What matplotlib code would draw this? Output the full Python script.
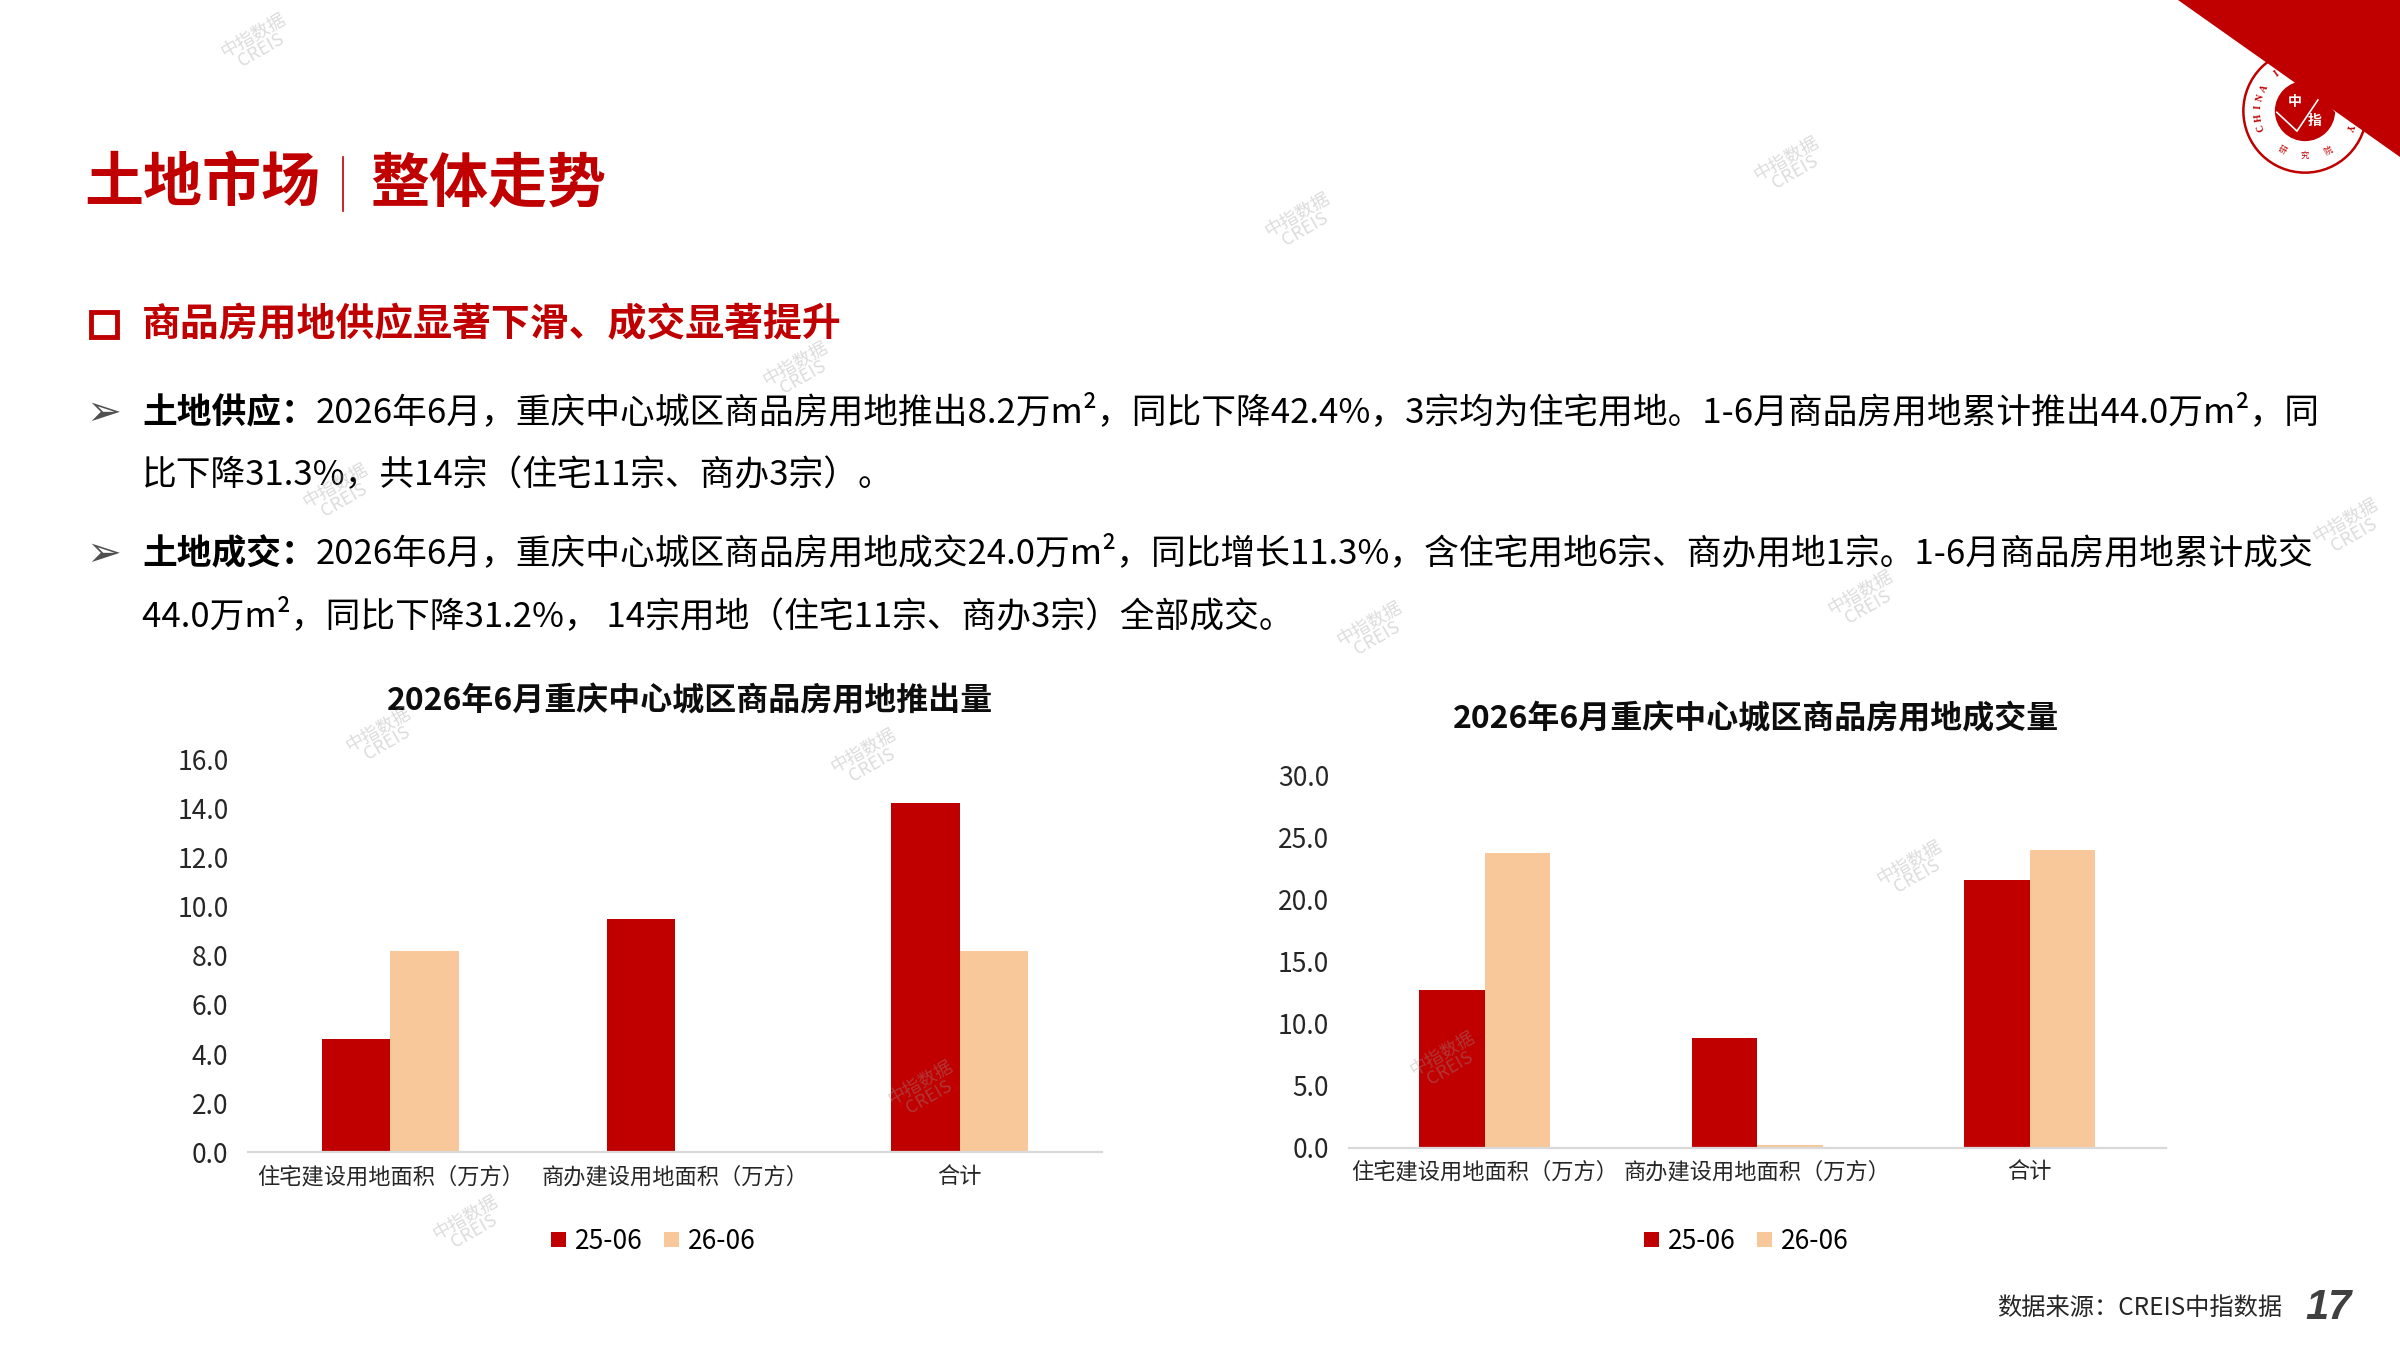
import matplotlib
matplotlib.use('Agg')
import matplotlib.pyplot as plt
from matplotlib.patches import Polygon, Rectangle, Circle
from matplotlib.ticker import FormatStrFormatter, MultipleLocator
import numpy as np

plt.rcParams['font.family'] = ['Noto Sans CJK SC', 'DejaVu Sans']

# ---- data ----
categories = ['住宅建设用地面积（万方）', '商办建设用地面积（万方）', '合计']
series_labels = ['25-06', '26-06']
supply_2506 = [4.6, 9.5, 14.2]
supply_2606 = [8.2, 0.0, 8.2]
deal_2506 = [12.7, 8.9, 21.6]
deal_2606 = [23.8, 0.2, 24.0]

supply_title = '2026年6月重庆中心城区商品房用地推出量'
deal_title = '2026年6月重庆中心城区商品房用地成交量'

RED = '#C00000'
PEACH = '#F9C89A'

fig = plt.figure(figsize=(24, 13.5), dpi=100)
W, H = 2400, 1350


def fx(px):
    return px / W


def fy(py):
    return 1 - py / H


# ---- header ----
fig.add_artist(Polygon([(fx(2178), 1), (1, 1), (1, fy(157))], closed=True,
                       transform=fig.transFigure, facecolor=RED, edgecolor='none'))

fig.text(fx(84), fy(184), '土地市场', fontsize=42.5, fontweight='bold', color=RED, va='center')
fig.text(fx(370), fy(184), '整体走势', fontsize=42.5, fontweight='bold', color=RED, va='center')
fig.add_artist(plt.Line2D([fx(343), fx(343)], [fy(157), fy(211)], transform=fig.transFigure,
                          color=RED, lw=1.2))

fig.add_artist(Rectangle((fx(91), fy(337)), fx(26), 25 / H, transform=fig.transFigure,
                         fill=False, edgecolor=RED, lw=3.5))
fig.text(fx(142), fy(325), '商品房用地供应显著下滑、成交显著提升', fontsize=28,
         fontweight='bold', color=RED, va='center')

renderer = fig.canvas.get_renderer()
BODY = 25


def rich_line(y, bold, rest):
    x = fx(142)
    if bold:
        t = fig.text(x, y, bold, fontsize=BODY, fontweight='bold', va='center')
        x = t.get_window_extent(renderer).x1 / W
    fig.text(x, y, rest, fontsize=BODY, va='center')


for yy in (413, 554):
    fig.text(fx(86), fy(yy), '➢', fontsize=30, color='#505050', va='center',
             family='DejaVu Sans')

rich_line(fy(413), '土地供应：', '2026年6月，重庆中心城区商品房用地推出8.2万m²，同比下降42.4%，'
          '3宗均为住宅用地。1-6月商品房用地累计推出44.0万m²，同')
rich_line(fy(476), '', '比下降31.3%，共14宗（住宅11宗、商办3宗）。')
rich_line(fy(554), '土地成交：', '2026年6月，重庆中心城区商品房用地成交24.0万m²，同比增长11.3%，'
          '含住宅用地6宗、商办用地1宗。1-6月商品房用地累计成交')
rich_line(fy(617), '', '44.0万m²，同比下降31.2%， 14宗用地（住宅11宗、商办3宗）全部成交。')


# ---- charts ----
def bar_chart(rect, v1, v2, ymax, step, title, title_xy, legend_xy):
    ax = fig.add_axes(rect)
    x = np.arange(len(categories))
    w = 0.24
    b1 = ax.bar(x - w / 2, v1, w, color=RED, label=series_labels[0])
    b2 = ax.bar(x + w / 2, v2, w, color=PEACH, label=series_labels[1])
    ax.set_xlim(-0.5, len(categories) - 0.5)
    ax.set_ylim(0, ymax)
    ax.yaxis.set_major_locator(MultipleLocator(step))
    ax.yaxis.set_major_formatter(FormatStrFormatter('%.1f'))
    ax.set_xticks(x)
    ax.set_xticklabels(categories, fontsize=16)
    ax.tick_params(axis='y', length=0, labelsize=19, pad=14, colors='#262626')
    ax.tick_params(axis='x', length=0, pad=9, colors='#262626')
    for s in ('top', 'left', 'right'):
        ax.spines[s].set_visible(False)
    ax.spines['bottom'].set_color('#D9D9D9')
    ax.spines['bottom'].set_linewidth(1.6)
    fig.text(title_xy[0], title_xy[1], title, fontsize=23, fontweight='bold',
             ha='center', va='center', color='#0D0D0D')
    ax.legend(handles=[b1, b2], loc='center', bbox_to_anchor=legend_xy,
              bbox_transform=fig.transFigure, ncol=2, frameon=False, fontsize=19,
              handlelength=0.55, handleheight=0.55, handletextpad=0.35, columnspacing=0.8)
    return ax


bar_chart([0.1033, 0.1463, 0.3559, 0.2914], supply_2506, supply_2606, 16, 2,
          supply_title, (0.2876, 0.4807), (0.2723, 0.0805))
bar_chart([0.5619, 0.1497, 0.3406, 0.2755], deal_2506, deal_2606, 30, 5,
          deal_title, (0.7315, 0.4671), (0.7277, 0.0805))

# ---- footer ----
fig.text(fx(2282), fy(1308), '数据来源：CREIS中指数据', fontsize=17.5, ha='right', va='center',
         color='#262626')
fig.text(fx(2305), fy(1308), '17', fontsize=30, fontweight='bold', style='italic',
         color='#404040', va='center', family='Liberation Sans')

# ---- logo ----
lax = fig.add_axes([fx(2238), fy(178), fx(134), 134 / H])
lax.set_xlim(-1, 1)
lax.set_ylim(-1, 1)
lax.set_aspect('equal')
lax.axis('off')
lax.add_patch(Circle((0, 0), 0.92, facecolor='white', edgecolor=RED, lw=1.8))
lax.add_patch(Circle((0, 0), 0.45, facecolor=RED, edgecolor='none'))
lax.plot([-0.42, -0.12, 0.25, 0.45], [-0.02, -0.3, 0.25, 0.0], color='white', lw=1.2)
lax.text(-0.15, 0.14, '中', color='white', fontsize=10, fontweight='bold', ha='center', va='center')
lax.text(0.15, -0.15, '指', color='white', fontsize=10, fontweight='bold', ha='center', va='center')
ring = 'CHINA INDEX ACADEMY'
angs = np.linspace(200, -20, len(ring))
for ch, a in zip(ring, angs):
    r = 0.7
    lax.text(r * np.cos(np.radians(a)), r * np.sin(np.radians(a)), ch, fontsize=7,
             rotation=a - 90, ha='center', va='center', color=RED, family='Liberation Serif',
             fontweight='bold')
for ch, a in zip('研究院', [240, 270, 300]):
    lax.text(0.68 * np.cos(np.radians(a)), 0.68 * np.sin(np.radians(a)), ch, fontsize=6,
             rotation=a + 90, ha='center', va='center', color=RED)

# ---- watermarks ----
marks = [(168, 28), (850, 145), (1170, 108), (522, 242), (222, 322), (1535, 345),
         (1218, 392), (897, 412), (250, 481), (567, 495), (1250, 568), (604, 712),
         (945, 693), (307, 800)]
for mx, my in marks:
    fig.text(mx / 1568, 1 - my / 882, '中指数据\nCREIS', fontsize=13, rotation=30,
             ha='center', va='center', color='#9a9a9a', alpha=0.35, linespacing=0.9,
             zorder=10)

fig.savefig('out.png', dpi=100)
